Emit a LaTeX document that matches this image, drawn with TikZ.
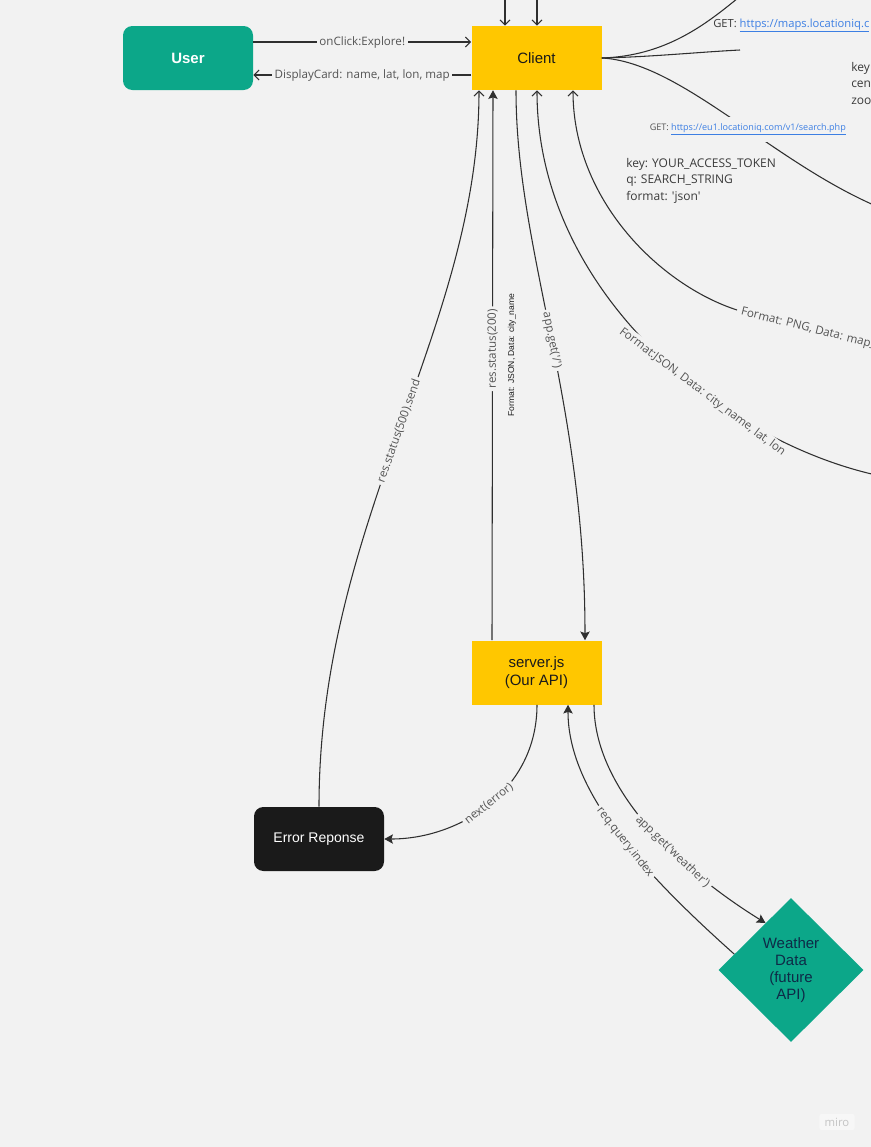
\documentclass[tikz,border=0pt]{standalone}
\usepackage{fontspec}
\setmainfont{Liberation Sans}
\newfontfamily\labfont[Ligatures=TeXOff]{Open Sans}
\usetikzlibrary{arrows.meta,shapes.geometric,calc}
\definecolor{bgc}{HTML}{F2F2F2}
\definecolor{mgreen}{HTML}{0CA789}
\definecolor{myellow}{HTML}{FFC700}
\definecolor{mblack}{HTML}{1A1A1A}
\definecolor{linec}{HTML}{2F2F2F}
\definecolor{labc}{HTML}{545454}
\definecolor{parc}{HTML}{3A3A3A}
\definecolor{linkc}{HTML}{3D7FE3}
\definecolor{navyc}{HTML}{0E2A47}
\definecolor{wmark}{HTML}{C4C4C4}
\definecolor{wmbg}{HTML}{F7F7F7}
\begin{document}
\begin{tikzpicture}[x=0.75pt,y=-0.75pt,
  conn/.style={draw=linec, line width=0.8pt},
  openarr/.style={conn, -{Straight Barb[length=3.75pt,width=7.5pt]}},
  solidarr/.style={conn, -{Stealth[length=6.5pt,width=7pt,inset=1.2pt]}},
  nodebox/.style={minimum width=97.5pt, minimum height=48pt, inner sep=0pt, align=center, font=\fontsize{11.25}{13}\selectfont},
  gbox/.style={nodebox, fill=mgreen, rounded corners=7pt, text=white, font=\bfseries\fontsize{11.25}{13}\selectfont},
  ybox/.style={nodebox, fill=myellow, text=mblack},
  kbox/.style={nodebox, fill=mblack, rounded corners=7pt, text=white, font=\fontsize{10.5}{12}\selectfont},
  wdiam/.style={diamond, fill=mgreen, minimum width=108.75pt, minimum height=108pt, inner sep=0pt, text=navyc, align=center, font=\fontsize{11.25}{12.75}\selectfont},
  elab/.style={fill=bgc, inner xsep=2pt, inner ysep=1.5pt, text=labc, font=\labfont\fontsize{8.7}{10}\selectfont},
  ptext/.style={text=parc, align=left, inner sep=0pt, font=\labfont\fontsize{9}{12.4}\selectfont},
  fmtnote/.style={text=mblack, inner sep=0pt, font=\fontsize{6.4}{8}\selectfont},
  linklab/.style={text=labc, font=\labfont\fontsize{6.8}{8}\selectfont}
]
\useasboundingbox (0,0) rectangle (871,1147);
\clip (0,0) rectangle (871,1147);
\fill[bgc] (0,0) rectangle (871,1147);

% nodes
\node[gbox] (user) at (188,58) {User};
\node[ybox] (client) at (536.5,58) {Client};
\node[ybox] (server) at (536.5,672.5) {server.js\\(Our API)};
\node[kbox] (err) at (319,839) {Error Reponse};
\node[wdiam] (weather) at (791,970) {Weather\\ Data\\(future\\API)};

% free ends
\coordinate (topA) at (505,-3);
\coordinate (topB) at (537,-3);
\coordinate (mapsEnd) at (738,-2);
\coordinate (staticEnd) at (740,50);
\coordinate (searchEnd) at (876,206);
\coordinate (jsonEnd) at (876,475);
\coordinate (pngEnd) at (737,310);

% user <-> client
\draw[openarr] ([yshift=12pt]user.east) -- node[elab]{onClick:Explore!} ([yshift=12pt]client.west);
\draw[openarr] ([yshift=-12.75pt]client.west) -- node[elab]{DisplayCard: name, lat, lon, map} ([yshift=-12.75pt]user.east);

% arrows from above
\draw[openarr] (topA) -- (topA |- client.north);
\draw[openarr] (topB) -- (topB |- client.north);

% curves to the right of client
\draw[conn] (client.east) .. controls (665,56) and (705,25) .. (mapsEnd);
\draw[conn] (client.east) .. controls (650,57) and (700,52) .. (staticEnd);
\draw[conn] (client.east) .. controls (680,62) and (770,160) .. node[linklab, pos=0.57, fill=bgc, inner xsep=1pt, minimum height=19pt]{GET: \textcolor{linkc}{\underline{https://eu1.locationiq.com/v1/search.php}}} (searchEnd);

\node[anchor=west, inner sep=0pt, text=parc, font=\labfont\fontsize{8.4}{10}\selectfont] (mapslab) at (713,25.5) {GET: \textcolor{linkc}{\underline{https://maps.locationiq.c}}};
\node[ptext, anchor=north west] (staticpar) at (851,62) {key\\cen\\zoo};
\node[ptext, anchor=north west] (searchpar) at (626,158) {key: YOUR\_ACCESS\_TOKEN\\q: SEARCH\_STRING\\format: 'json'};

% client bottom connectors
\draw[openarr] (err.north) .. controls (319,520) and (479,330) .. node[elab, sloped, pos=0.5]{res.status(500).send} ($(client.south)+(-57.5,0)$);
\draw[solidarr] ($(server.north)+(-44.5,0)$) -- node[elab, sloped, pos=0.53]{res.status(200)} ($(client.south)+(-43.5,0)$);
\node[fmtnote, rotate=90] (fmtjson) at (512,355) {Format: JSON, Data: city\_name};
\draw[solidarr] ($(client.south)+(-20.5,0)$) .. controls (516,250) and (585,400) .. node[elab, sloped, pos=0.51]{app.get('/')} ($(server.north)+(48.5,0)$);
\draw[openarr] (jsonEnd) .. controls (720,440) and (537,290) .. node[elab, sloped, pos=0.37]{Format:JSON, Data: city\_name, lat, lon} ($(client.south)+(0.5,0)$);
\draw[openarr] (pngEnd) .. controls (660,285) and (573,200) .. ($(client.south)+(36.5,0)$);
\node[anchor=west, rotate=-14, inner sep=0pt, text=labc, font=\labfont\fontsize{8.7}{10}\selectfont] (pnglab) at (741,312) {Format: PNG, Data: map\_};

% server bottom connectors
\draw[solidarr] ($(server.south)+(0.5,0)$) .. controls (537,790) and (460,839) .. node[elab, sloped, pos=0.5]{next(error)} (err.east);
\draw[solidarr] ($(weather.west)!0.22!(weather.north)$) .. controls (640,870) and (568,790) .. node[elab, sloped, pos=0.45]{req.query.index} ($(server.south)+(31.5,0)$);
\draw[solidarr] ($(server.south)+(57.5,0)$) .. controls (594,790) and (680,870) .. node[elab, sloped, pos=0.62]{app.get('weather')} ($(weather.west)!0.65!(weather.north)$);

% watermark
\node[fill=wmbg, rounded corners=2pt, text=wmark, inner xsep=4pt, inner ysep=3pt, font=\labfont\fontsize{8.5}{10}\selectfont] (wm) at (837,1122) {miro};
\end{tikzpicture}
\end{document}
